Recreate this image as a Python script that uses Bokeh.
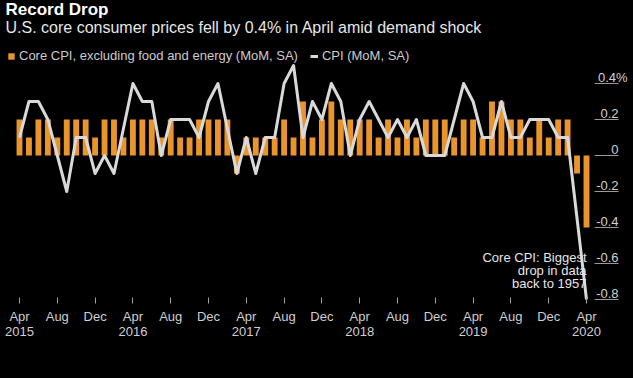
from bokeh.plotting import figure
from bokeh.models import (Range1d, FixedTicker, LinearAxis, Label, Legend, LegendItem,
                          ColumnDataSource, GlobalInlineStyleSheet)
from bokeh.core.properties import value
from bokeh.embed import file_html
from bokeh.resources import INLINE

# ---------------- data ----------------
month_index = list(range(61))  # Apr 2015 ... Apr 2020
core_cpi = [0.2, 0.1, 0.2, 0.2, 0.1, 0.2, 0.2, 0.2, 0.1, 0.2,
            0.2, 0.1, 0.2, 0.2, 0.2, 0.1, 0.2, 0.1, 0.1, 0.2,
            0.2, 0.2, 0.2, -0.1, 0.1, 0.1, 0.1, 0.1, 0.2, 0.1,
            0.3, 0.1, 0.2, 0.3, 0.2, 0.2, 0.2, 0.2, 0.1, 0.2,
            0.1, 0.2, 0.1, 0.2, 0.2, 0.2, 0.1, 0.2, 0.2, 0.1,
            0.3, 0.3, 0.2, 0.2, 0.1, 0.2, 0.1, 0.2, 0.2, -0.1,
            -0.4]
cpi = [0.1, 0.3, 0.3, 0.2, 0.0, -0.2, 0.1, 0.1, -0.1, 0.0,
       -0.1, 0.15, 0.4, 0.3, 0.3, 0.0, 0.2, 0.2, 0.2, 0.1,
       0.3, 0.4, 0.15, -0.1, 0.1, -0.1, 0.1, 0.1, 0.4, 0.5,
       0.1, 0.3, 0.2, 0.4, 0.3, 0.0, 0.2, 0.3, 0.2, 0.1,
       0.2, 0.1, 0.2, 0.0, 0.0, 0.0, 0.2, 0.4, 0.3, 0.1,
       0.1, 0.3, 0.1, 0.1, 0.2, 0.2, 0.2, 0.1, 0.1, -0.35,
       -0.8]
month_tick_idx = [0, 4, 8, 12, 16, 20, 24, 28, 32, 36, 40, 44, 48, 52, 56, 60]
month_tick_labels = ["Apr", "Aug", "Dec"] * 5 + ["Apr"]
year_tick_idx = [0, 12, 24, 36, 48, 60]
year_tick_labels = ["2015", "2016", "2017", "2018", "2019", "2020"]
y_tick_vals = [0.4, 0.2, 0.0, -0.2, -0.4, -0.6, -0.8]
y_tick_labels = ["0.4%", "0.2", "0", "-0.2", "-0.4", "-0.6", "-0.8"]
annotation_lines = ["Core CPI: Biggest", "drop in data", "back to 1957"]

# ---------------- style ----------------
FONT = "Liberation Sans"
ORANGE = "#E9952C"
LINE = "#d9d9d9"
W, H = 633, 378

p = figure(width=W, height=H, output_backend="svg", toolbar_location=None,
           x_range=Range1d(-2.0106, 64.974), y_range=Range1d(-0.8222, 0.8611),
           x_axis_location=None, y_axis_location=None,
           min_border_left=0, min_border_right=0, min_border_top=0, min_border_bottom=75,
           background_fill_color="black", border_fill_color="black",
           outline_line_color=None)
p.grid.visible = False
p.stylesheets = [GlobalInlineStyleSheet(css="html, body { background-color: #000000; }")]

# x axes: months then years
ax_m = LinearAxis(ticker=FixedTicker(ticks=month_tick_idx),
                  major_label_overrides={i: s for i, s in zip(month_tick_idx, month_tick_labels)},
                  axis_line_color=None, major_tick_in=6, major_tick_out=0,
                  minor_tick_line_color=None, major_tick_line_color="#a0a0a0",
                  major_label_standoff=5, major_label_text_font=FONT,
                  major_label_text_font_size="13px", major_label_text_color="#cfcfcf")
p.add_layout(ax_m, "below")
ax_y = LinearAxis(ticker=FixedTicker(ticks=year_tick_idx),
                  major_label_overrides={i: s for i, s in zip(year_tick_idx, year_tick_labels)},
                  axis_line_color=None, major_tick_line_color=None, minor_tick_line_color=None,
                  major_tick_in=0, major_tick_out=0,
                  major_label_standoff=0, major_label_text_font=FONT,
                  major_label_text_font_size="13px", major_label_text_color="#cfcfcf")
p.add_layout(ax_y, "below")

src = ColumnDataSource(dict(x=month_index, core=core_cpi, cpi=cpi))
bars = p.vbar(x="x", top="core", bottom=0, width=0.62, source=src,
              fill_color=ORANGE, line_color=None)
line = p.line(x="x", y="cpi", source=src, line_color=LINE, line_width=3,
              line_join="round")

# right-hand value ticks (short rules with labels above)
n = len(y_tick_vals)
TICK_X0, TICK_X1 = 60.85, 63.39
ysrc = ColumnDataSource(dict(y=y_tick_vals, text=y_tick_labels,
                             x0=[TICK_X0] * n, x1=[TICK_X1] * n,
                             xo=[9 if s.endswith("%") else 0 for s in y_tick_labels]))
p.segment(x0="x0", y0="y", x1="x1", y1="y", source=ysrc, line_color="#9a9a9a", line_width=1)
p.text(x="x1", y="y", text="text", x_offset="xo", y_offset=-6, source=ysrc,
       text_align="right", text_baseline="alphabetic", text_font=value(FONT),
       text_font_size="13px", text_color="#d0d0d0")

# annotation
asrc = ColumnDataSource(dict(x=[month_index[-1]] * 3, y=[-0.7111] * 3,
                             text=annotation_lines, yo=[-26, -13, 0]))
p.text(x="x", y="y", text="text", y_offset="yo", x_offset=0, source=asrc,
       text_align="right", text_baseline="alphabetic", text_font=value(FONT),
       text_font_size="13px", text_color="#e6e6e6")

# legend
legend = Legend(items=[LegendItem(label="Core CPI, excluding food and energy (MoM, SA)", renderers=[bars]),
                       LegendItem(label="CPI (MoM, SA)", renderers=[line])],
                orientation="horizontal", location=(7, 240), glyph_width=8, glyph_height=8,
                label_standoff=4, spacing=12, padding=0, margin=0,
                background_fill_alpha=0, border_line_color=None,
                label_text_font=FONT, label_text_font_size="13px",
                label_text_color="#cccccc", label_height=15)
p.add_layout(legend)

# titles and footer
p.add_layout(Label(x=5, y=285, x_units="screen", y_units="screen", text="Record Drop",
                   text_font=FONT, text_font_style="bold", text_font_size="17px",
                   text_color="#ffffff"))
p.add_layout(Label(x=5, y=268, x_units="screen", y_units="screen",
                   text="U.S. core consumer prices fell by 0.4% in April amid demand shock",
                   text_font=FONT, text_font_size="16px", text_color="#e6e6e6"))
p.add_layout(Label(x=5, y=-59, x_units="screen", y_units="screen",
                   text="Source: Bureau of Labor Statistics",
                   text_font=FONT, text_font_size="12px", text_color="#bdbdbd"))
p.add_layout(Label(x=627, y=-63, x_units="screen", y_units="screen", text="Bloomberg",
                   text_align="right", text_font=FONT, text_font_style="bold",
                   text_font_size="12px", text_color="#d0d0d0"))

open("out.html", "w").write(file_html(p, INLINE))
